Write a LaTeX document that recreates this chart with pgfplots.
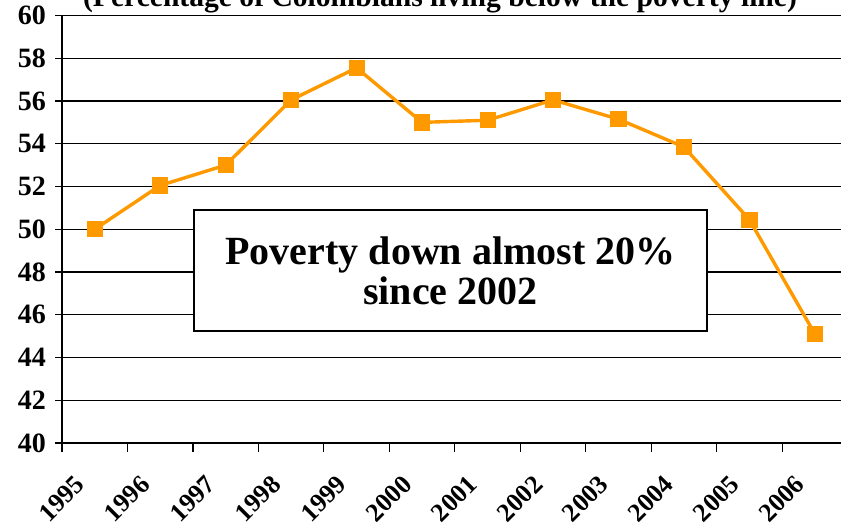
\documentclass[border=0pt]{standalone}
\usepackage{fontspec}
\setmainfont{Liberation Serif}
\usepackage{pgfplots}
\pgfplotsset{compat=1.18}
\definecolor{povorange}{HTML}{FF9900}
\begin{document}
\begin{tikzpicture}[x=1pt,y=1pt]
\path[use as bounding box, clip] (0,0) rectangle (420.5,263.5);
\begin{axis}[
  at={(31pt,42pt)}, anchor=south west,
  scale only axis, width=392.8pt, height=213.75pt,
  xmin=-0.5, xmax=11.5, ymin=40, ymax=60,
  ytick={40,42,...,60},
  xtick={0,...,11},
  xticklabels={1995,1996,1997,1998,1999,2000,2001,2002,2003,2004,2005,2006},
  minor xtick={-0.5,0.5,...,11.5},
  axis x line*=bottom, axis y line*=left,
  axis line style={black, line width=0.9pt},
  ymajorgrids,
  major grid style={black, line width=0.6pt},
  tick align=outside,
  major tick length=3.5pt, minor tick length=4.3pt,
  tick style={black, line width=0.6pt},
  major x tick style={draw=none},
  /pgf/number format/assume math mode=true,
  yticklabel style={font=\bfseries\fontsize{14}{14}\selectfont, xshift=-1pt},
  xticklabel style={xshift=-10.5pt, yshift=-11.8pt, rotate=45, anchor=north east, inner sep=0pt, font=\bfseries\fontsize{13}{13}\selectfont},
  clip=false,
]
\addplot[povorange, line width=1.7pt, mark=square*, mark size=3.8pt,
  mark options={solid, fill=povorange, draw=povorange, line width=0.4pt}]
  coordinates {(0,50.0) (1,52.05) (2,53.0) (3,56.05) (4,57.55) (5,55.0) (6,55.1) (7,56.05) (8,55.15) (9,53.85) (10,50.45) (11,45.1)};
\end{axis}
\node[anchor=base, font=\bfseries\fontsize{14.8}{14.8}\selectfont] at (220,260.5) {(Percentage of Colombians living below the poverty line)};
\node[draw=black, line width=1pt, fill=white, minimum width=256.5pt, minimum height=60.5pt, align=center, inner sep=0pt,
  font=\bfseries\fontsize{20}{20}\selectfont] at (225.25,128.25) {Poverty down almost 20\%\\[0pt]since 2002};
\end{tikzpicture}
\end{document}
